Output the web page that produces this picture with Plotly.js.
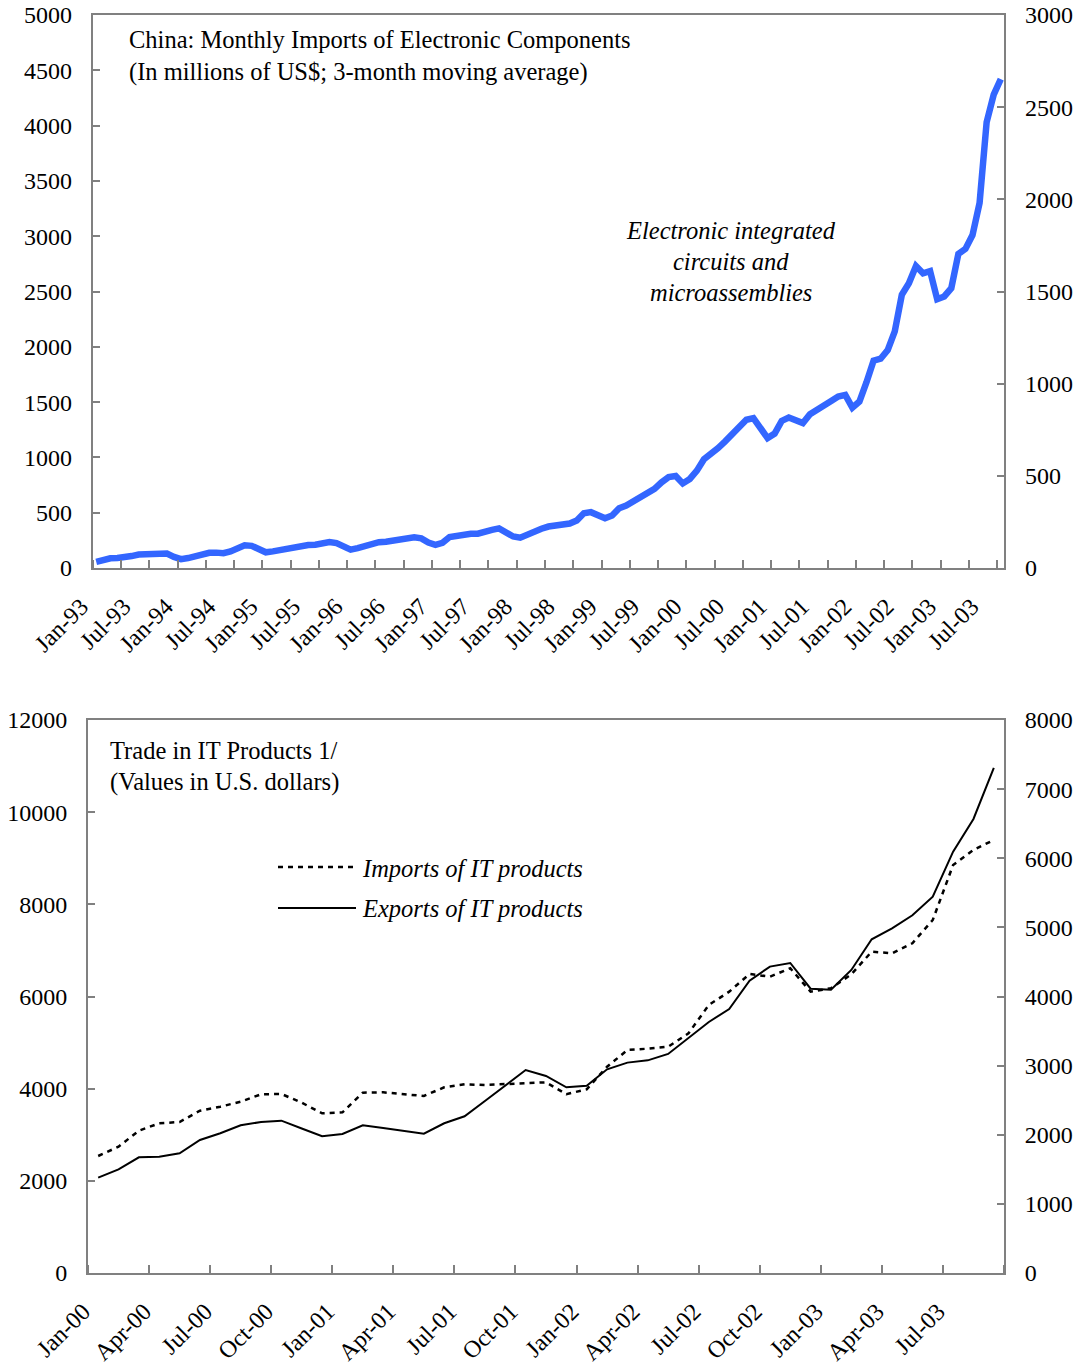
<!DOCTYPE html>
<html>
<head>
<meta charset="utf-8">
<script src="https://cdn.plot.ly/plotly-3.0.1.min.js"></script>
<style>html,body{margin:0;padding:0;background:#fff;}#chart{width:1080px;height:1367px;}</style>
</head>
<body>
<div id="chart"></div>
<script>
// ---------- Top chart: China monthly imports of electronic components (Jan-93 .. Sep-03) ----------
var topTickLabels = ['Jan-93','Jul-93','Jan-94','Jul-94','Jan-95','Jul-95','Jan-96','Jul-96','Jan-97','Jul-97','Jan-98','Jul-98','Jan-99','Jul-99','Jan-00','Jul-00','Jan-01','Jul-01','Jan-02','Jul-02','Jan-03','Jul-03'];
var chipImports = [
  55, 75, 88, 90, 93, 108, 122, 126, 128, 140, 130, 100,
  80, 90, 108, 130, 137, 139, 134, 150, 175, 205, 200, 175,
  142, 150, 163, 176, 190, 203, 208, 211, 216, 235, 225, 190,
  166, 180, 199, 215, 233, 238, 245, 250, 265, 277, 268, 230,
  210, 228, 280, 292, 312, 310, 310, 332, 345, 358, 320, 285,
  274, 305, 340, 355, 375, 385, 394, 402, 430, 495, 505, 470,
  450, 475, 540, 565, 600, 645, 680, 715, 775, 822, 832, 765,
  805, 880, 983, 1030, 1085, 1145, 1205, 1265, 1340, 1355, 1265, 1175,
  1215, 1330, 1360, 1340, 1310, 1390, 1425, 1460, 1510, 1550, 1565, 1450,
  1505, 1680, 1875, 1892, 1970, 2140, 2470, 2574, 2730, 2665, 2685, 2430,
  2455, 2530, 2840, 2885, 3010, 3300, 4030, 4280, 4420
];

// ---------- Bottom chart: Trade in IT products (Jan-00 .. Sep-03) ----------
var bottomTickLabels = ['Jan-00','Apr-00','Jul-00','Oct-00','Jan-01','Apr-01','Jul-01','Oct-01','Jan-02','Apr-02','Jul-02','Oct-02','Jan-03','Apr-03','Jul-03'];
var itImports = [
  2539, 2741, 3088, 3249, 3277, 3522, 3609, 3717, 3878, 3885, 3696, 3466,
  3487, 3913, 3921, 3878, 3841, 4030, 4095, 4080, 4102, 4123, 4138, 3880,
  3986, 4477, 4839, 4868, 4911, 5201, 5816, 6105, 6489, 6430, 6612, 6105,
  6178, 6482, 6973, 6938, 7155, 7661, 8854, 9180, 9397
];
var itExports = [
  2068, 2250, 2511, 2524, 2598, 2886, 3032, 3205, 3277, 3305, 3136, 2967,
  3016, 3205, 3145, 3084, 3023, 3249, 3401, 3733, 4073, 4405, 4275, 4030,
  4065, 4420, 4565, 4615, 4753, 5093, 5447, 5729, 6344, 6648, 6727, 6170,
  6149, 6576, 7241, 7480, 7762, 8167, 9143, 9852, 10959
];

function idx(n){ var a=[]; for(var i=0;i<n;i++) a.push(i); return a; }
function everyN(n, step){ var a=[]; for(var i=0;i<n;i+=step) a.push(i); return a; }

var FONT = 'Liberation Serif, Times New Roman, serif';
var GREY = '#808080';
var W = 1080, H = 1367;
function px(x){ return x / W; }
function py(y){ return 1 - y / H; }

var traces = [
  {x: idx(chipImports.length), y: chipImports, type:'scatter', mode:'lines',
   line:{color:'#3366ff', width:6.5}, xaxis:'x', yaxis:'y', hoverinfo:'skip'},
  // empty helper traces so the secondary (right-hand) axes get drawn
  {x: [], y: [], type:'scatter', mode:'lines', xaxis:'x', yaxis:'y2', hoverinfo:'skip'},
  {x: idx(itImports.length), y: itImports, type:'scatter', mode:'lines',
   line:{color:'#000', width:2.5, dash:'5px,5px'}, xaxis:'x2', yaxis:'y3', hoverinfo:'skip'},
  {x: idx(itExports.length), y: itExports, type:'scatter', mode:'lines',
   line:{color:'#000', width:2}, xaxis:'x2', yaxis:'y3', hoverinfo:'skip'},
  {x: [], y: [], type:'scatter', mode:'lines', xaxis:'x2', yaxis:'y4', hoverinfo:'skip'}
];

var FS = 24;
var AFS = 24.5;
var tickFont = {family: FONT, size: FS, color: '#000'};
var nTop = chipImports.length, nBot = itImports.length;

function yAx(extra){
  var base = {
    ticks: 'inside', ticklen: 7, tickwidth: 2, tickcolor: GREY,
    tickfont: tickFont, ticklabelstandoff: 14, tickformat: 'd',
    showline: true, linecolor: GREY, linewidth: 2,
    showgrid: false, zeroline: false
  };
  for (var k in extra) base[k] = extra[k];
  return base;
}

var layout = {
  width: W, height: H,
  margin: {l:0, r:0, t:0, b:0},
  paper_bgcolor: '#fff', plot_bgcolor: '#fff',
  showlegend: false,
  xaxis: {
    domain: [px(92.7), px(1004.3)], anchor: 'y',
    range: [-0.5, nTop - 0.5],
    tickmode: 'array', tickvals: everyN(nTop, 6), ticktext: topTickLabels,
    ticks: '', tickangle: -45, tickfont: tickFont,
    ticklabelstandoff: 13, ticklabelshift: -15,
    showline: true, linecolor: GREY, linewidth: 2, mirror: true,
    showgrid: false, zeroline: false,
    minor: {ticks: 'inside', tick0: -0.5, dtick: 4, ticklen: 8, tickwidth: 2, tickcolor: GREY, showgrid: false}
  },
  yaxis: yAx({domain: [py(568), py(15)], anchor: 'x', range: [0, 5000], dtick: 500, tick0: 0}),
  yaxis2: yAx({overlaying: 'y', side: 'right', anchor: 'x', range: [0, 3000], dtick: 500, tick0: 0}),
  xaxis2: {
    domain: [px(88), px(1004)], anchor: 'y3',
    range: [-0.5, nBot - 0.5],
    tickmode: 'array', tickvals: everyN(nBot, 3), ticktext: bottomTickLabels,
    ticks: '', tickangle: -45, tickfont: tickFont,
    ticklabelstandoff: 13, ticklabelshift: -15,
    showline: true, linecolor: GREY, linewidth: 2, mirror: true,
    showgrid: false, zeroline: false,
    minor: {ticks: 'inside', tick0: -0.5, dtick: 3, ticklen: 8, tickwidth: 2, tickcolor: GREY, showgrid: false}
  },
  yaxis3: yAx({domain: [py(1273), py(720)], anchor: 'x2', range: [0, 12000], dtick: 2000, tick0: 0}),
  yaxis4: yAx({overlaying: 'y3', side: 'right', anchor: 'x2', range: [0, 8000], dtick: 1000, tick0: 0}),
  annotations: [
    {text: 'China: Monthly Imports of Electronic Components', xref:'paper', yref:'paper',
     x: px(127), y: py(40), xanchor:'left', yanchor:'middle', showarrow:false, font:{family:FONT, size:AFS, color:'#000'}},
    {text: '(In millions of US$; 3-month moving average)', xref:'paper', yref:'paper',
     x: px(127), y: py(72), xanchor:'left', yanchor:'middle', showarrow:false, font:{family:FONT, size:AFS, color:'#000'}},
    {text: '<i>Electronic integrated</i>', xref:'paper', yref:'paper',
     x: px(731), y: py(230), xanchor:'center', yanchor:'middle', showarrow:false, font:{family:FONT, size:AFS, color:'#000'}},
    {text: '<i>circuits and</i>', xref:'paper', yref:'paper',
     x: px(731), y: py(262), xanchor:'center', yanchor:'middle', showarrow:false, font:{family:FONT, size:AFS, color:'#000'}},
    {text: '<i>microassemblies</i>', xref:'paper', yref:'paper',
     x: px(731), y: py(292), xanchor:'center', yanchor:'middle', showarrow:false, font:{family:FONT, size:AFS, color:'#000'}},
    {text: 'Trade in IT Products 1/', xref:'paper', yref:'paper',
     x: px(108), y: py(750), xanchor:'left', yanchor:'middle', showarrow:false, font:{family:FONT, size:AFS, color:'#000'}},
    {text: '(Values in U.S. dollars)', xref:'paper', yref:'paper',
     x: px(108), y: py(782), xanchor:'left', yanchor:'middle', showarrow:false, font:{family:FONT, size:AFS, color:'#000'}},
    {text: '<i>Imports of IT products</i>', xref:'paper', yref:'paper',
     x: px(360), y: py(868), xanchor:'left', yanchor:'middle', showarrow:false, font:{family:FONT, size:AFS, color:'#000'}},
    {text: '<i>Exports of IT products</i>', xref:'paper', yref:'paper',
     x: px(360), y: py(908), xanchor:'left', yanchor:'middle', showarrow:false, font:{family:FONT, size:AFS, color:'#000'}}
  ],
  shapes: [
    {type:'line', xref:'paper', yref:'paper', x0: px(278), x1: px(356), y0: py(867), y1: py(867),
     line:{color:'#000', width:2.5, dash:'5px,5px'}},
    {type:'line', xref:'paper', yref:'paper', x0: px(278), x1: px(356), y0: py(908), y1: py(908),
     line:{color:'#000', width:2}}
  ]
};

Plotly.newPlot('chart', traces, layout, {staticPlot: true, displayModeBar: false});
</script>
</body>
</html>
